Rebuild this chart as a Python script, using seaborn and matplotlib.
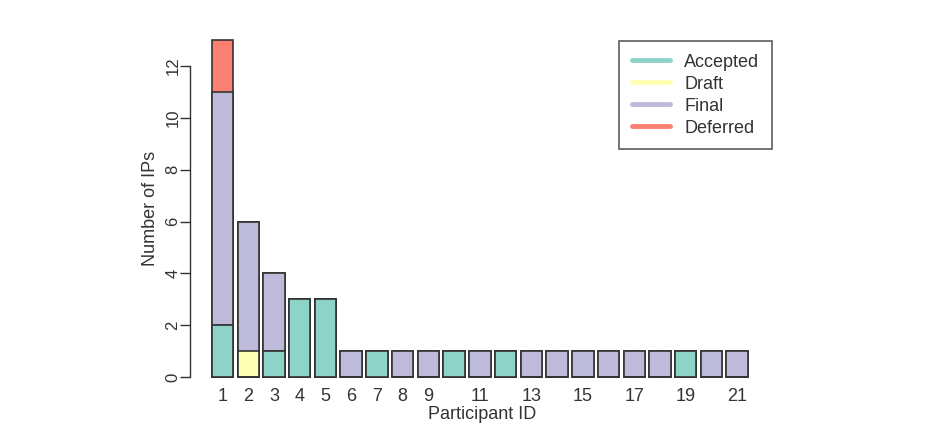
import matplotlib
matplotlib.use("Agg")
import matplotlib.pyplot as plt
import seaborn as sns
import pandas as pd
import numpy as np
from matplotlib.lines import Line2D

participants = [str(i) for i in range(1, 22)]
accepted = [2, 0, 1, 3, 3, 0, 1, 0, 0, 1, 0, 1, 0, 0, 0, 0, 0, 0, 1, 0, 0]
draft    = [0, 1, 0, 0, 0, 0, 0, 0, 0, 0, 0, 0, 0, 0, 0, 0, 0, 0, 0, 0, 0]
final    = [9, 5, 3, 0, 0, 1, 0, 1, 1, 0, 1, 0, 1, 1, 1, 1, 1, 1, 0, 1, 1]
deferred = [2, 0, 0, 0, 0, 0, 0, 0, 0, 0, 0, 0, 0, 0, 0, 0, 0, 0, 0, 0, 0]
shown_ticks = ["1", "2", "3", "4", "5", "6", "7", "8", "9", "11", "13", "15", "17", "19", "21"]
statuses = ["Accepted", "Draft", "Final", "Deferred"]
colors = ["#8DD3C7", "#FFFFB3", "#BEBADA", "#FB8072"]

sns.set_style("white")
plt.rcParams["font.family"] = ["Liberation Sans", "DejaVu Sans"]

df = pd.DataFrame({"pid": participants, "Accepted": accepted, "Draft": draft,
                   "Final": final, "Deferred": deferred})
cum = df[statuses].cumsum(axis=1)

fig = plt.figure(figsize=(9.41, 4.42), dpi=100)
ax = fig.add_axes([190.2 / 941, 1 - 390.5 / 442, (773.8 - 190.2) / 941, (390.5 - 26.8) / 442])

# draw cumulative totals from the top layer down so they stack
for status, col in zip(reversed(statuses), reversed(colors)):
    d = pd.DataFrame({"pid": df["pid"], "v": cum[status]})
    sns.barplot(data=d, x="pid", y="v", color=col, width=1 / 1.2,
                edgecolor="#333333", linewidth=1.2, saturation=1, ax=ax, order=participants)

ax.set_xlim(-1.257, 21.423)
ax.set_ylim(-0.52, 13.52)
ax.set_xlabel("Participant ID", fontsize=13, color="#333333", labelpad=1)
ax.set_ylabel("Number of IPs", fontsize=13, color="#333333", labelpad=5)
ax.set_xticks([participants.index(t) for t in shown_ticks])
ax.set_xticklabels(shown_ticks, fontsize=13, color="#333333")
ax.tick_params(axis="x", length=0, pad=-2)
ax.set_yticks([0, 2, 4, 6, 8, 10, 12])
ax.set_yticklabels(["0", "2", "4", "6", "8", "10", "12"], fontsize=12, color="#333333",
                   rotation=90, va="center")
ax.tick_params(axis="y", length=7, width=1, color="#333333", left=True, pad=0)
for s in ["top", "right", "bottom"]:
    ax.spines[s].set_visible(False)
ax.spines["left"].set_bounds(0, 12)
ax.spines["left"].set_color("#333333")
ax.spines["left"].set_linewidth(1)

handles = [Line2D([0], [0], color=c, lw=3.5) for c in colors]
leg = fig.legend(handles, statuses, loc="upper right",
                 bbox_to_anchor=(772 / 941, 1 - 41 / 442), frameon=True, fancybox=False,
                 fontsize=13, handlelength=2.1, handletextpad=0.8, labelspacing=0.28,
                 borderpad=0.7, borderaxespad=0)
leg.get_frame().set_edgecolor("#333333")
leg.get_frame().set_linewidth(1.2)
for t in leg.get_texts():
    t.set_color("#333333")

fig.savefig("out.png", dpi=100)
